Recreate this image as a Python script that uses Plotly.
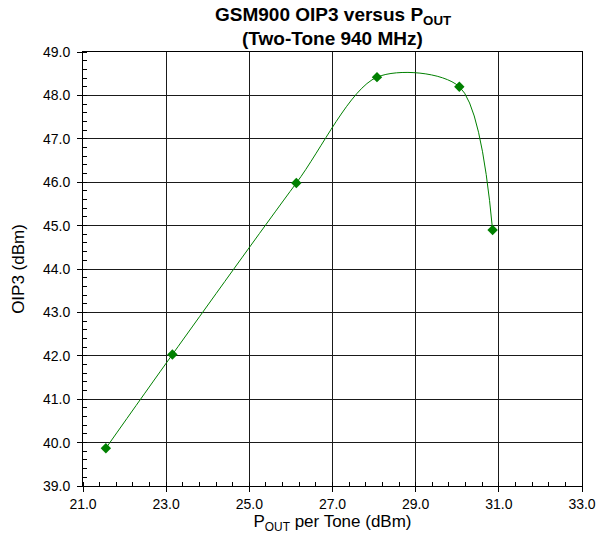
import plotly.graph_objects as go

pout = [21.55, 23.15, 26.13, 28.07, 30.05, 30.85]
oip3 = [39.87, 42.03, 45.98, 48.42, 48.20, 44.90]

x_ticks = [21.0, 23.0, 25.0, 27.0, 29.0, 31.0, 33.0]
y_ticks = [39.0, 40.0, 41.0, 42.0, 43.0, 44.0, 45.0, 46.0, 47.0, 48.0, 49.0]

title_line1 = "<b>GSM900 OIP3 versus P<sub>OUT</sub></b>"
title_line2 = "<b>(Two-Tone 940 MHz)</b>"

green = "#008000"
font = "Liberation Sans, Arial, sans-serif"

fig = go.Figure()
fig.add_trace(go.Scatter(
    x=pout, y=oip3, mode="lines+markers",
    line=dict(color=green, width=1, shape="spline", smoothing=0.85),
    marker=dict(symbol="diamond", size=8, color=green),
    showlegend=False,
))

axis_common = dict(
    showline=True, linecolor="black", linewidth=1, mirror=True,
    showgrid=True, gridcolor="#1a1a1a", gridwidth=1,
    ticks="outside", ticklen=5, tickcolor="black",
    zeroline=False,
    tickfont=dict(family=font, size=14, color="black"),
)

H_PLOT = 545 - 52 - 59

fig.update_layout(
    width=608, height=545,
    paper_bgcolor="white", plot_bgcolor="white",
    margin=dict(l=83, r=21, t=52, b=59),
    font=dict(family=font, color="black"),
    xaxis=dict(
        range=[21.0, 33.0], tickvals=x_ticks,
        ticktext=[f"{v:.1f}" for v in x_ticks],
        minor=dict(ticks="inside", dtick=0.4, tick0=21.0, ticklen=4,
                   tickcolor="black", showgrid=False),
        title=dict(text="P<sub>OUT</sub> per Tone (dBm)",
                   font=dict(family=font, size=17, color="black"), standoff=4),
        **axis_common,
    ),
    yaxis=dict(
        range=[39.0, 49.0], tickvals=y_ticks,
        ticktext=[f"{v:.1f}" for v in y_ticks],
        minor=dict(ticks="inside", dtick=0.2, tick0=39.0, ticklen=4,
                   tickcolor="black", showgrid=False),
        ticklabelstandoff=4,
        title=dict(text="OIP3 (dBm)",
                   font=dict(family=font, size=17, color="black"), standoff=14),
        **axis_common,
    ),
    annotations=[
        dict(text=title_line1, xref="paper", yref="paper",
             x=0.5, y=1 + (52 - 16) / H_PLOT, xanchor="center", yanchor="middle",
             showarrow=False, font=dict(family=font, size=19, color="black")),
        dict(text=title_line2, xref="paper", yref="paper",
             x=0.5, y=1 + (52 - 38) / H_PLOT, xanchor="center", yanchor="middle",
             showarrow=False, font=dict(family=font, size=19, color="black")),
    ],
)

fig.write_html("out.html", config={"displayModeBar": False},
               post_script="document.body.style.margin='0';")
